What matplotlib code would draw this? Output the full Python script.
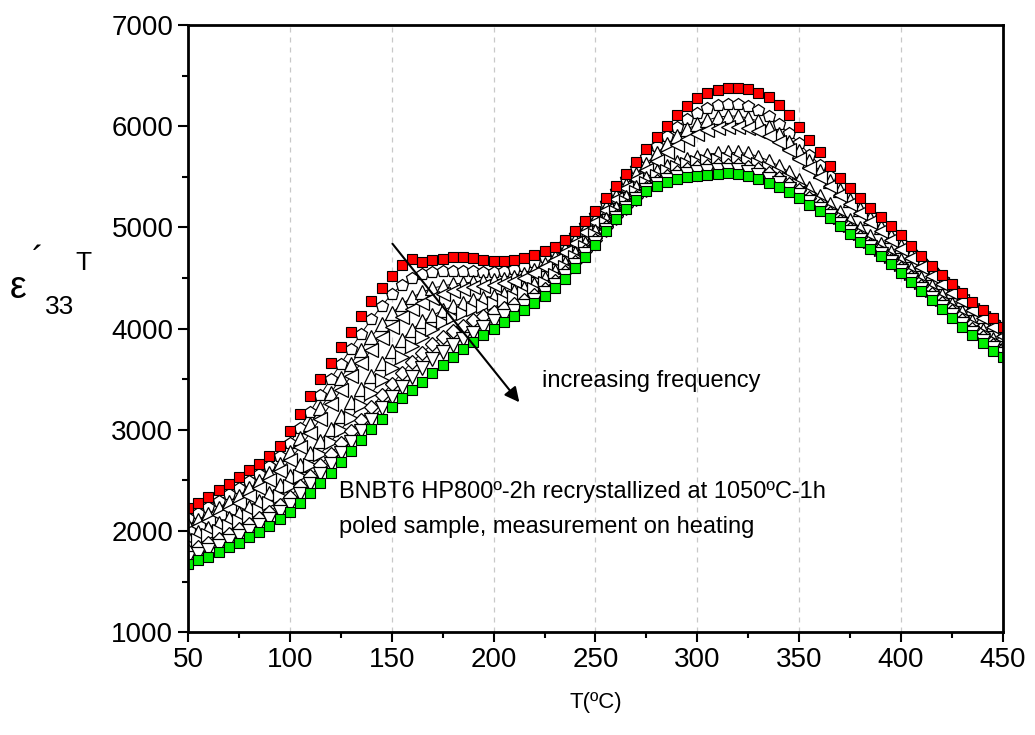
import numpy as np
import matplotlib.pyplot as plt
from matplotlib.ticker import MultipleLocator

plt.rcParams['font.family'] = ['Liberation Sans', 'DejaVu Sans']

# temperature (C), 5 degree steps
T = np.arange(50, 451, 5)

eps_red = [2230, 2280, 2340, 2400, 2460, 2530, 2600, 2660, 2740, 2840, 2990, 3160, 3330, 3500, 3660, 3820,
           3970, 4120, 4270, 4400, 4520, 4630, 4690, 4660, 4680, 4690, 4705, 4710, 4700, 4680, 4670, 4665,
           4680, 4700, 4730, 4770, 4810, 4880, 4960, 5060, 5160, 5290, 5410, 5530, 5650, 5770, 5890, 6000,
           6110, 6200, 6280, 6330, 6360, 6380, 6380, 6370, 6330, 6290, 6210, 6110, 5990, 5860, 5740, 5610,
           5490, 5390, 5290, 5190, 5100, 5010, 4920, 4820, 4720, 4620, 4530, 4440, 4350, 4260, 4180, 4100, 4020]

eps_pent = [2130, 2180, 2240, 2300, 2360, 2420, 2490, 2560, 2640, 2740, 2870, 3020, 3180, 3340, 3500, 3650,
            3800, 3950, 4090, 4220, 4340, 4430, 4500, 4540, 4560, 4570, 4570, 4570, 4565, 4560, 4560, 4570,
            4590, 4620, 4660, 4710, 4770, 4840, 4920, 5020, 5120, 5240, 5360, 5480, 5590, 5700, 5800, 5900,
            5990, 6070, 6130, 6180, 6210, 6220, 6220, 6200, 6160, 6100, 6020, 5930, 5830, 5720, 5620, 5510,
            5410, 5310, 5210, 5120, 5030, 4940, 4850, 4760, 4670, 4580, 4490, 4400, 4310, 4220, 4140, 4060, 3980]

eps_up1 = [2060, 2110, 2170, 2230, 2290, 2350, 2420, 2490, 2570, 2660, 2780, 2920, 3060, 3210, 3360, 3510,
           3650, 3790, 3920, 4040, 4150, 4240, 4310, 4360, 4400, 4420, 4440, 4450, 4460, 4470, 4480, 4490,
           4510, 4540, 4580, 4640, 4710, 4790, 4880, 4980, 5080, 5200, 5310, 5420, 5530, 5630, 5730, 5820,
           5900, 5970, 6020, 6060, 6090, 6100, 6100, 6080, 6050, 5990, 5920, 5840, 5750, 5660, 5560, 5460,
           5370, 5270, 5180, 5090, 5000, 4910, 4820, 4730, 4640, 4550, 4460, 4370, 4290, 4200, 4120, 4040, 3950]

eps_left = [2000, 2050, 2100, 2160, 2220, 2280, 2350, 2420, 2500, 2590, 2700, 2830, 2970, 3110, 3250, 3390,
            3530, 3660, 3790, 3910, 4020, 4110, 4190, 4250, 4300, 4340, 4370, 4390, 4410, 4420, 4430, 4450,
            4470, 4500, 4550, 4610, 4680, 4760, 4850, 4950, 5050, 5170, 5280, 5390, 5480, 5570, 5660, 5740,
            5810, 5870, 5920, 5960, 5980, 5990, 5990, 5980, 5950, 5900, 5840, 5760, 5680, 5590, 5500, 5410,
            5320, 5230, 5140, 5050, 4960, 4880, 4790, 4700, 4610, 4520, 4440, 4350, 4270, 4180, 4100, 4020, 3930]

eps_up2 = [1940, 1985, 2030, 2080, 2130, 2180, 2240, 2300, 2370, 2450, 2540, 2650, 2770, 2890, 3010, 3140,
           3270, 3400, 3530, 3660, 3780, 3890, 3990, 4070, 4130, 4180, 4220, 4250, 4280, 4300, 4320, 4340,
           4370, 4400, 4440, 4500, 4570, 4650, 4750, 4850, 4960, 5080, 5190, 5300, 5400, 5490, 5560, 5610,
           5650, 5680, 5700, 5720, 5735, 5740, 5740, 5730, 5700, 5660, 5610, 5550, 5470, 5390, 5310, 5230,
           5150, 5070, 4990, 4910, 4840, 4760, 4680, 4590, 4500, 4420, 4330, 4240, 4160, 4070, 3990, 3900, 3820]

eps_right = [1870, 1910, 1955, 2000, 2050, 2100, 2150, 2210, 2280, 2350, 2440, 2540, 2650, 2760, 2880, 3000,
             3120, 3240, 3360, 3490, 3610, 3720, 3830, 3920, 4000, 4060, 4110, 4150, 4190, 4220, 4250, 4280,
             4310, 4350, 4390, 4450, 4530, 4610, 4710, 4810, 4920, 5040, 5150, 5250, 5350, 5440, 5510, 5560,
             5600, 5630, 5645, 5660, 5670, 5675, 5670, 5655, 5630, 5590, 5540, 5480, 5420, 5340, 5260, 5180,
             5100, 5020, 4940, 4870, 4790, 4720, 4640, 4550, 4460, 4380, 4290, 4210, 4120, 4040, 3960, 3880, 3800]

eps_diam = [1800, 1840, 1880, 1925, 1970, 2020, 2070, 2130, 2190, 2260, 2340, 2440, 2540, 2650, 2760, 2870,
            2990, 3100, 3220, 3340, 3450, 3560, 3670, 3760, 3850, 3920, 3980, 4030, 4080, 4120, 4160, 4200,
            4240, 4280, 4330, 4390, 4470, 4560, 4660, 4770, 4880, 5000, 5110, 5210, 5300, 5390, 5460, 5510,
            5550, 5580, 5595, 5610, 5620, 5620, 5615, 5600, 5575, 5535, 5490, 5430, 5370, 5290, 5220, 5140,
            5060, 4980, 4900, 4830, 4750, 4680, 4600, 4510, 4420, 4340, 4250, 4170, 4080, 4000, 3920, 3840, 3770]

eps_down = [1730, 1770, 1810, 1855, 1900, 1950, 2000, 2060, 2120, 2190, 2260, 2360, 2460, 2560, 2660, 2770,
            2880, 2990, 3100, 3210, 3320, 3420, 3520, 3610, 3700, 3770, 3840, 3900, 3960, 4020, 4070, 4120,
            4170, 4220, 4280, 4350, 4430, 4520, 4630, 4740, 4850, 4970, 5090, 5190, 5280, 5370, 5430, 5470,
            5500, 5530, 5545, 5560, 5570, 5570, 5565, 5550, 5520, 5480, 5440, 5380, 5320, 5250, 5180, 5110,
            5030, 4950, 4880, 4810, 4740, 4660, 4570, 4480, 4390, 4300, 4210, 4130, 4040, 3960, 3880, 3810, 3745]

eps_green = [1670, 1710, 1740, 1790, 1840, 1885, 1940, 1990, 2050, 2120, 2190, 2280, 2370, 2470, 2570, 2680,
             2790, 2900, 3010, 3110, 3220, 3310, 3390, 3470, 3560, 3640, 3720, 3800, 3870, 3940, 4000, 4060,
             4120, 4180, 4250, 4320, 4400, 4490, 4600, 4710, 4830, 4960, 5080, 5180, 5270, 5360, 5410, 5450,
             5475, 5495, 5505, 5520, 5530, 5535, 5525, 5505, 5480, 5440, 5400, 5350, 5290, 5220, 5160, 5090,
             5010, 4930, 4860, 4790, 4720, 4640, 4550, 4460, 4370, 4280, 4190, 4100, 4020, 3940, 3860, 3780, 3720]

open_series = [(eps_pent, 'p', 9), (eps_up1, '^', 10), (eps_left, '<', 10), (eps_up2, '^', 10),
               (eps_right, '>', 10), (eps_diam, 'D', 7), (eps_down, 'v', 10)]

fig = plt.figure(figsize=(10.35, 7.35), dpi=100)
ax = fig.add_axes([0.1816, 0.140, 0.7874, 0.826])

for vals, mk, ms in open_series:
    ax.plot(T, vals, color='black', lw=0.7, marker=mk, ms=ms, mfc='white', mec='black', mew=0.9)

ax.plot(T, eps_green, ls='none', marker='s', ms=7, mfc='#00ee00', mec='black', mew=0.8)
ax.plot(T, eps_red, ls='none', marker='s', ms=7, mfc='#ff0000', mec='black', mew=0.8)

ax.set_xlim(50, 450)
ax.set_ylim(1000, 7000)
ax.xaxis.set_major_locator(MultipleLocator(50))
ax.xaxis.set_minor_locator(MultipleLocator(25))
ax.yaxis.set_major_locator(MultipleLocator(1000))
ax.yaxis.set_minor_locator(MultipleLocator(500))
ax.tick_params(which='major', direction='out', length=7, width=1.5, labelsize=20)
ax.tick_params(which='minor', direction='out', length=4, width=1.5)
for sp in ax.spines.values():
    sp.set_linewidth(2)
ax.xaxis.grid(True, which='major', color='#c8c8c8', ls=(0, (4, 4)), lw=0.9)
ax.set_axisbelow(True)

ax.set_xlabel('T(ºC)', fontsize=16, labelpad=14)

# y label pieces: epsilon' 33 T
fig.text(18 / 1035, 1 - 288 / 735, 'ε', fontsize=27, ha='center', va='center')
fig.text(38 / 1035, 1 - 262 / 735, '´', fontsize=26, ha='center', va='center')
fig.text(60 / 1035, 1 - 307 / 735, '33', fontsize=19, ha='center', va='center')
fig.text(83 / 1035, 1 - 263 / 735, 'T', fontsize=19, ha='center', va='center')

ax.annotate('', xy=(213.5, 3250), xytext=(149.5, 4860),
            arrowprops=dict(arrowstyle='-|>', color='black', lw=1.5, mutation_scale=22))
ax.text(224, 3480, 'increasing frequency', fontsize=17, va='center', ha='left')
ax.text(124, 2383, 'BNBT6 HP800º-2h recrystallized at 1050ºC-1h', fontsize=17, va='center', ha='left')
ax.text(124, 2038, 'poled sample, measurement on heating', fontsize=17, va='center', ha='left')

fig.savefig('out.png', dpi=100)
